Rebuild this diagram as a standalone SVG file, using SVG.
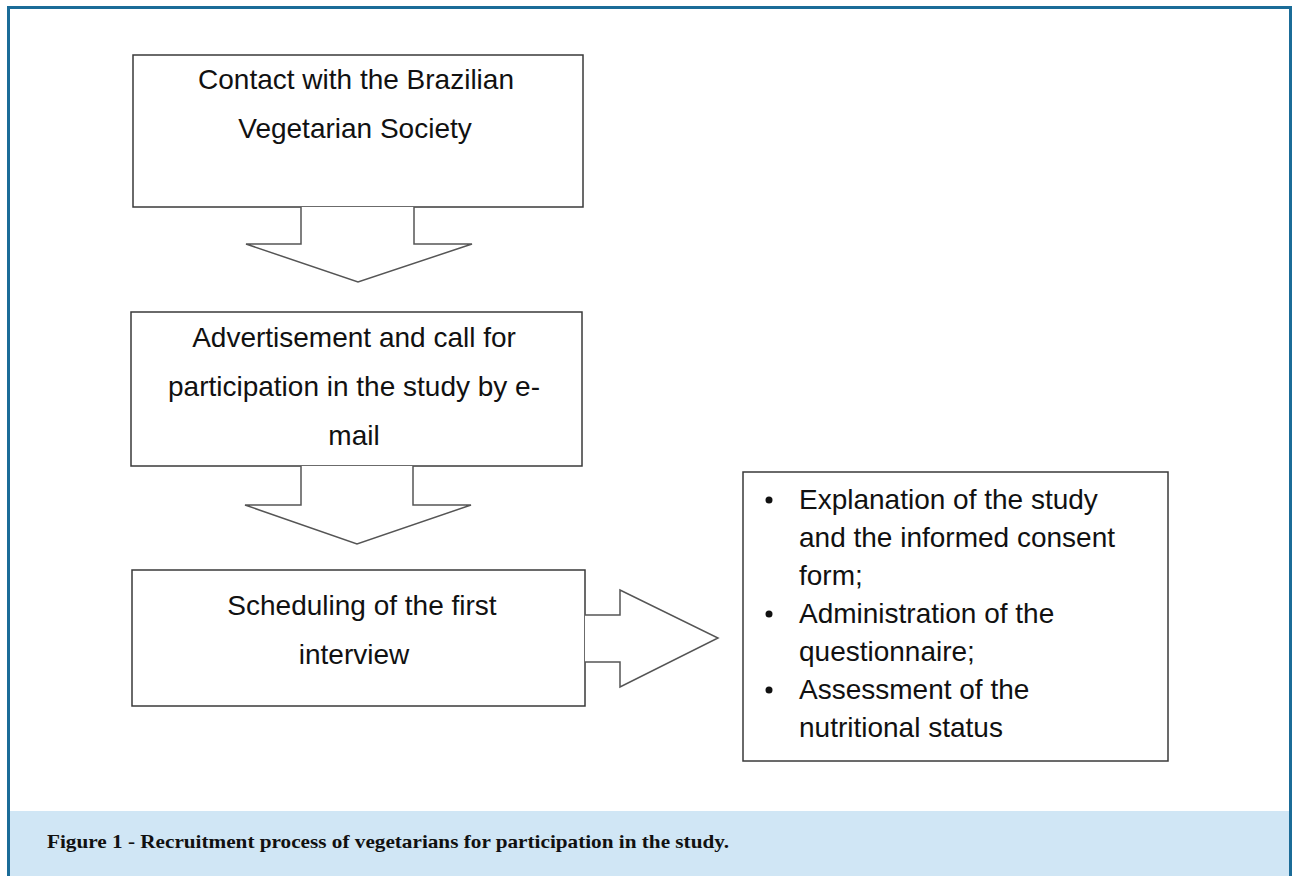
<svg xmlns="http://www.w3.org/2000/svg" width="1296" height="876" viewBox="0 0 1296 876">
<style>
.box{fill:#fff;stroke:#3a3a3a;stroke-width:1.5}
.arr{fill:#fff;stroke:#555;stroke-width:1.5;stroke-linejoin:miter}
.t{font-family:"Liberation Sans",Arial,sans-serif;font-size:28px;fill:#111}
.c{text-anchor:middle}
.cap{font-family:"Liberation Serif","Times New Roman",serif;font-weight:bold;font-size:19px;fill:#111}
</style>
<rect x="0" y="0" width="1296" height="876" fill="#fff"/>
<rect x="9" y="811" width="1281" height="65" fill="#d0e6f5"/>
<path d="M8.5 876 V7.5 H1290.5 V876" fill="none" stroke="#1b6c98" stroke-width="3"/>
<g id="node1">
<rect class="box" x="133" y="55" width="450" height="152"/>
<text class="t c" x="356" y="89">Contact with the Brazilian</text>
<text class="t c" x="355" y="138">Vegetarian Society</text>
</g>
<g id="node2">
<rect class="box" x="131" y="312" width="451" height="154"/>
<text class="t c" x="354" y="347">Advertisement and call for</text>
<text class="t c" x="354" y="396">participation in the study by e-</text>
<text class="t c" x="354" y="445">mail</text>
</g>
<g id="node3">
<rect class="box" x="132" y="570" width="453" height="136"/>
<text class="t c" x="362" y="615">Scheduling of the first</text>
<text class="t c" x="354" y="664">interview</text>
</g>
<g id="node4">
<rect class="box" x="743" y="472" width="425" height="289"/>
<g class="t">
<circle cx="769" cy="500" r="3.5" fill="#111"/>
<circle cx="769" cy="614" r="3.5" fill="#111"/>
<circle cx="769" cy="690" r="3.5" fill="#111"/>
<text x="799" y="509">Explanation of the study</text>
<text x="799" y="547">and the informed consent</text>
<text x="799" y="585">form;</text>
<text x="799" y="623">Administration of the</text>
<text x="799" y="661">questionnaire;</text>
<text x="799" y="699">Assessment of the</text>
<text x="799" y="737">nutritional status</text>
</g>
</g>
<g id="connectors">
<path class="arr" d="M301 207 V244 H246 L358 282 L472 244 H414 V207"/>
<path class="arr" d="M301 466 V505 H245 L357 544 L471 505 H413 V466"/>
<path class="arr" d="M585 615 H620 V590 L718 638 L620 687 V662 H585"/>
</g>
<text class="cap" x="47" y="848" textLength="682" lengthAdjust="spacingAndGlyphs">Figure 1 - Recruitment process of vegetarians for participation in the study.</text>
</svg>
